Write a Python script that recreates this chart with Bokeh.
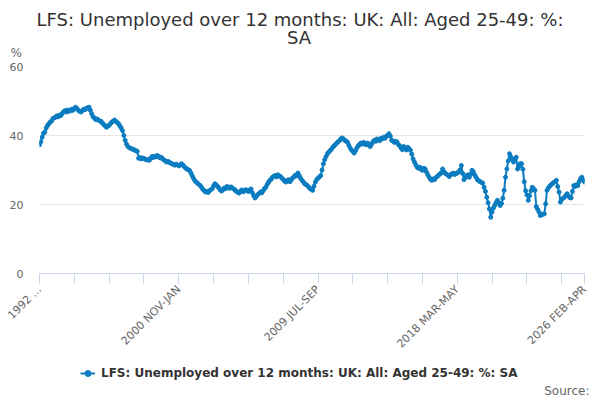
import math
from bokeh.plotting import figure
from bokeh.layouts import column
from bokeh.models import (Range1d, FixedTicker, Label, Legend, LegendItem,
                          ColumnDataSource)
from bokeh.embed import file_html
from bokeh.resources import INLINE

TITLE_1 = "LFS: Unemployed over 12 months: UK: All: Aged 25-49: %:"
TITLE_2 = "SA"
SERIES = "LFS: Unemployed over 12 months: UK: All: Aged 25-49: %: SA"
UNIT = "%"
SOURCE = "Source:"

MONTHS = ["JAN", "FEB", "MAR", "APR", "MAY", "JUN",
          "JUL", "AUG", "SEP", "OCT", "NOV", "DEC"]

# Rolling 3-month periods, 1992 MAR-MAY ... 2026 FEB-APR
values = [
    37.3, 38.2, 39.5, 40.6, 41.0, 42.2, 42.9, 43.4, 43.9, 44.2, 44.9, 45.1,
    45.3, 45.7, 45.4, 45.9, 45.8, 46.4, 46.9, 47.2, 46.8, 47.4, 47.0, 47.2,
    47.6, 47.3, 47.9, 48.2, 47.8, 47.3, 47.0, 46.8, 47.2, 47.6, 47.5, 47.9,
    48.0, 48.2, 47.3, 46.3, 45.4, 45.1, 44.6, 44.8, 44.5, 44.2, 44.1, 43.6,
    43.2, 42.8, 42.4, 42.7, 43.0, 43.4, 43.9, 44.1, 44.5, 44.1, 43.8, 43.4,
    42.8, 42.2, 41.4, 40.0, 38.6, 37.5, 36.8, 36.5, 36.3, 36.1, 36.0, 35.8,
    35.6, 35.4, 33.4, 33.6, 33.2, 33.5, 33.3, 33.1, 32.9, 33.0, 32.8, 33.4,
    33.9, 33.6, 34.0, 33.8, 34.2, 33.9, 33.5, 33.7, 33.2, 32.9, 32.6, 32.3,
    32.5, 32.2, 32.0, 31.8, 31.6, 31.4, 31.7, 31.5, 31.2, 31.4, 31.8, 31.5,
    31.0, 30.6, 30.3, 30.1, 29.9, 29.2, 28.4, 27.6, 26.9, 26.5, 26.2, 25.8,
    25.5, 25.0, 24.4, 24.0, 23.6, 23.8, 23.5, 24.0, 24.3, 24.6, 25.4, 26.0,
    25.7, 25.2, 24.8, 24.2, 23.9, 24.3, 24.8, 24.6, 25.2, 25.0, 24.7, 25.1,
    24.8, 24.5, 24.2, 23.8, 23.6, 23.3, 23.8, 24.2, 23.7, 23.9, 24.3, 24.0,
    23.8, 24.2, 24.5, 23.4, 22.5, 21.9, 22.4, 22.9, 23.2, 23.6, 23.4, 24.0,
    24.6, 25.0, 25.8, 26.4, 27.0, 27.3, 27.9, 28.2, 28.4, 28.0, 28.6, 28.3,
    28.1, 27.6, 27.3, 26.8, 26.5, 26.9, 27.2, 26.6, 27.1, 27.7, 28.0, 28.5,
    28.3, 29.1, 28.4, 27.6, 27.0, 26.6, 26.0, 25.8, 25.5, 25.1, 24.6, 24.4,
    24.1, 25.3, 26.5, 27.2, 27.6, 28.0, 28.4, 30.0, 31.8, 33.0, 33.9, 34.7,
    35.2, 35.6, 36.0, 36.6, 37.0, 37.4, 37.8, 38.2, 38.5, 39.0, 39.3, 39.0,
    38.6, 38.3, 38.1, 37.2, 36.4, 35.8, 35.4, 34.9, 35.6, 36.4, 37.0, 37.4,
    37.8, 37.5, 38.0, 37.6, 37.3, 37.8, 37.2, 36.8, 37.5, 38.2, 38.6, 38.3,
    39.0, 38.7, 38.5, 39.2, 39.0, 39.5, 39.2, 39.8, 40.1, 40.5, 39.8, 38.6,
    38.4, 38.0, 38.3, 38.1, 37.4, 37.0, 36.4, 35.9, 36.8, 36.2, 35.8, 36.6,
    36.2, 35.7, 34.6, 33.2, 32.3, 31.5, 30.8, 30.5, 30.8, 30.2, 29.9, 30.5,
    30.3, 29.4, 28.6, 27.9, 27.3, 27.0, 27.4, 27.2, 27.8, 28.1, 28.5, 28.8,
    29.2, 30.3, 29.6, 29.0, 28.8, 28.5, 28.1, 28.6, 28.9, 29.1, 28.7, 28.9,
    29.2, 29.4, 30.0, 31.3, 29.0, 27.2, 27.8, 28.4, 28.6, 27.9, 28.8, 29.9,
    29.5, 28.6, 27.9, 27.2, 26.9, 26.6, 26.4, 26.2, 25.0, 23.8, 22.1, 20.5,
    18.7, 16.3, 17.8, 19.0, 19.8, 20.6, 21.2, 20.4, 19.7, 20.3, 21.8, 24.1,
    27.9, 30.3, 32.6, 34.7, 33.8, 33.1, 32.3, 33.2, 33.7, 30.3, 31.0, 31.8,
    31.8, 30.2, 26.6, 24.0, 22.8, 21.2, 22.5, 24.0, 25.0, 24.6, 24.1, 19.4,
    18.6, 17.8, 16.8, 17.0, 17.2, 17.3, 20.2, 24.1, 24.8, 25.3, 25.7, 26.0,
    26.4, 26.6, 27.0, 25.2, 23.6, 20.7, 21.5, 21.8, 22.1, 22.6, 23.1, 22.5,
    22.0, 21.9, 23.8, 25.5, 25.2, 25.7, 25.5, 26.6, 27.4, 27.9, 27.2, 26.5,
]

periods = []
for i in range(len(values)):
    start = 1992 * 12 + 2 + i
    yr, m = divmod(start, 12)
    periods.append(f"{yr} {MONTHS[m]}-{MONTHS[(m + 2) % 12]}")

x_idx = list(range(len(values)))
tick_positions = list(range(0, len(values), 26)) + [len(values) - 1]
labelled = {0: "1992 ...", 104: periods[104], 208: periods[208],
            312: periods[312], len(values) - 1: periods[-1]}
y_ticks = [0, 20, 40, 60]

BLUE = "#0b7cc0"
GREY = "#666666"
DARK = "#333333"
FONT = "DejaVu Sans"
W = 600


def blank(height):
    f = figure(width=W, height=height, output_backend="svg",
               toolbar_location=None, title=None,
               x_range=Range1d(0, 1), y_range=Range1d(0, 1),
               x_axis_type=None, y_axis_type=None,
               min_border_left=0, min_border_right=0,
               min_border_top=0, min_border_bottom=0)
    f.outline_line_color = None
    f.grid.visible = False
    f.frame_align = False
    return f


# ---- title strip ----
top = blank(60)
top.add_layout(Label(x=299.5, y=41.5, x_units="screen", y_units="screen",
                     text=TITLE_1, text_align="center", text_baseline="middle",
                     text_font=FONT, text_font_size="18px", text_color=DARK))
top.add_layout(Label(x=298.5, y=23, x_units="screen", y_units="screen",
                     text=TITLE_2, text_align="center", text_baseline="middle",
                     text_font=FONT, text_font_size="18px", text_color=DARK))
top.add_layout(Label(x=10, y=7.5, x_units="screen", y_units="screen",
                     text=UNIT, text_align="left", text_baseline="middle",
                     text_font=FONT, text_font_size="12px", text_color=GREY))

# ---- main chart ----
src = ColumnDataSource(dict(idx=x_idx, value=values, period=periods))

p = figure(width=W, height=298, output_backend="svg", toolbar_location=None,
           title=None,
           x_range=Range1d(0, len(values) - 1), y_range=Range1d(0, 60),
           min_border_left=39, min_border_right=16, min_border_top=6,
           min_border_bottom=85)
p.outline_line_color = None
p.frame_align = False

ln = p.line(x="idx", y="value", source=src, line_width=2, color=BLUE)
dots = p.scatter(x="idx", y="value", source=src, size=4, color=BLUE)

xa = p.xaxis[0]
xa.ticker = FixedTicker(ticks=tick_positions)
xa.major_label_overrides = {t: labelled.get(t, "") for t in tick_positions}
xa.major_label_orientation = math.pi / 4
xa.major_label_text_font = FONT
xa.major_label_text_font_size = "11px"
xa.major_label_text_color = GREY
xa.axis_line_color = "#ccd6eb"
xa.major_tick_line_color = "#ccd6eb"
xa.major_tick_out = 10
xa.major_tick_in = 0
xa.minor_tick_line_color = None
xa.minor_tick_out = 0
xa.major_label_standoff = 4

ya = p.yaxis[0]
ya.ticker = FixedTicker(ticks=y_ticks)
ya.axis_line_color = None
ya.major_tick_line_color = None
ya.minor_tick_line_color = None
ya.major_tick_out = 0
ya.minor_tick_out = 0
ya.major_label_text_font = FONT
ya.major_label_text_font_size = "11px"
ya.major_label_text_color = GREY
ya.major_label_standoff = 16

p.xgrid.grid_line_color = None
p.ygrid.grid_line_color = "#e6e6e6"
p.ygrid.ticker = FixedTicker(ticks=y_ticks)

# ---- legend / source strip ----
bot = blank(42)
# legend key renderers: first data point, outside this strip's ranges
key_line = bot.line(x=x_idx[:2], y=values[:2], line_width=2, color=BLUE)
key_dot = bot.scatter(x=x_idx[:1], y=values[:1], size=4, color=BLUE)
legend = Legend(items=[LegendItem(label=SERIES, renderers=[key_line, key_dot])],
                location=(80, 17), padding=0, margin=0, glyph_width=15,
                label_standoff=6, border_line_alpha=0, background_fill_alpha=0,
                label_text_font=FONT, label_text_font_size="12px",
                label_text_font_style="bold", label_text_color=DARK)
bot.add_layout(legend, "center")
bot.add_layout(Label(x=589, y=10, x_units="screen", y_units="screen",
                     text=SOURCE, text_align="right", text_baseline="middle",
                     text_font=FONT, text_font_size="12px", text_color=GREY))

layout = column(top, p, bot, spacing=0)
open("out.html", "w").write(file_html(layout, INLINE))
